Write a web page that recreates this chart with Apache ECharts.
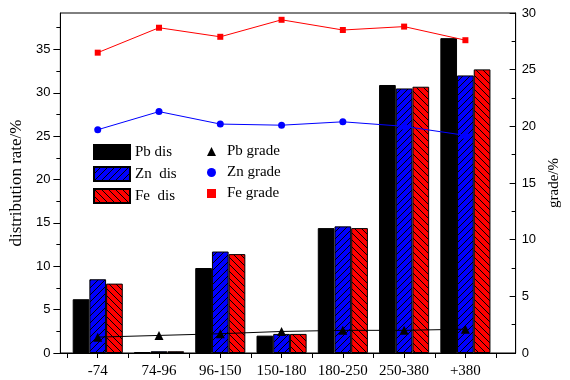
<!DOCTYPE html>
<html>
<head>
<meta charset="utf-8">
<script src="https://cdn.jsdelivr.net/npm/echarts@6/dist/echarts.min.js"></script>
<style>html,body{margin:0;padding:0;background:#fff;}#c{width:570px;height:380px;}</style>
</head>
<body>
<div id="c"></div>
<script>
const categories = ['-74', '74-96', '96-150', '150-180', '180-250', '250-380', '+380'];
const pbDis = [6.2, 0.1, 9.8, 2.0, 14.4, 30.9, 36.3];
const znDis = [8.5, 0.2, 11.7, 2.2, 14.6, 30.5, 32.0];
const feDis = [8.0, 0.2, 11.4, 2.2, 14.4, 30.7, 32.7];
const pbGrade = [1.4, 1.55, 1.7, 1.9, 2.0, 2.0, 2.1];
const znGrade = [19.7, 21.3, 20.2, 20.1, 20.4, 20.0, 19.2];
const feGrade = [26.5, 28.7, 27.9, 29.4, 28.5, 28.8, 27.6];
const leftTicks = [0, 5, 10, 15, 20, 25, 30, 35];

const pos = categories.map((c, i) => i + 1);
const pair = arr => arr.map((v, i) => [pos[i], v]);
const minorX = pos.map(p => p - 0.5).concat([pos[pos.length - 1] + 0.5]);

function hatchTile(bg, forward) {
  const n = 7;
  const c = document.createElement('canvas');
  c.width = n; c.height = n;
  const ctx = c.getContext('2d');
  ctx.fillStyle = bg;
  ctx.fillRect(0, 0, n, n);
  ctx.fillStyle = '#000';
  for (let i = 0; i < n; i++) {
    ctx.fillRect(i, forward ? n - 1 - i : i, 1, 1);
  }
  return {image: c, repeat: 'repeat'};
}

const chart = echarts.init(document.getElementById('c'), null, {renderer: 'canvas'});
const serif = 'Liberation Serif';
const sans = 'Liberation Sans';

chart.setOption({
  animation: false,
  backgroundColor: '#fff',
  grid: {left: 60, right: 49, top: 13, bottom: 27, show: true, borderColor: '#000', borderWidth: 1, backgroundColor: 'transparent'},
  legend: [
    {
      data: ['Pb dis', 'Zn  dis', 'Fe  dis'],
      orient: 'vertical', left: 88, top: 139, icon: 'rect',
      itemWidth: 36, itemHeight: 14, itemGap: 6,
      textStyle: {fontFamily: serif, fontSize: 15, color: '#000'},
      selectedMode: false
    },
    {
      data: [
        {name: 'Pb grade', icon: 'triangle'},
        {name: 'Zn grade', icon: 'circle'},
        {name: 'Fe grade', icon: 'rect'}
      ],
      orient: 'vertical', left: 202, top: 139,
      itemWidth: 9, itemHeight: 9, itemGap: 6,
      textStyle: {fontFamily: serif, fontSize: 15, color: '#000', padding: [0, 0, 0, 6]},
      selectedMode: false
    }
  ],
  xAxis: {
    type: 'value', min: 0.39, max: 7.82,
    axisLine: {lineStyle: {color: '#000', width: 1}},
    splitLine: {show: false},
    axisTick: {show: true, length: 5, lineStyle: {color: '#000'}, customValues: pos.concat(minorX)},
    axisLabel: {
      customValues: pos, margin: 11,
      fontFamily: serif, fontSize: 15, color: '#000',
      formatter: v => categories[Math.round(v) - 1] || ''
    }
  },
  yAxis: [
    {
      type: 'value', min: 0, max: 39.2, interval: 5, position: 'left',
      name: 'distribution rate/%', nameLocation: 'middle', nameGap: 31, nameRotate: 90,
      nameTextStyle: {fontFamily: serif, fontSize: 17, color: '#000'},
      axisLine: {show: true, lineStyle: {color: '#000'}},
      splitLine: {show: false},
      axisTick: {show: true, length: 7, lineStyle: {color: '#000'}, customValues: leftTicks},
      minorTick: {show: true, splitNumber: 2, length: 4, lineStyle: {color: '#000'}},
      axisLabel: {customValues: leftTicks, margin: 10, fontFamily: sans, fontSize: 13, color: '#000'}
    },
    {
      type: 'value', min: 0, max: 30, interval: 5, position: 'right',
      name: 'grade/%', nameLocation: 'middle', nameGap: 25, nameRotate: 90,
      nameTextStyle: {fontFamily: serif, fontSize: 15, color: '#000'},
      axisLine: {show: true, lineStyle: {color: '#000'}},
      splitLine: {show: false},
      axisTick: {show: true, inside: true, length: 6, lineStyle: {color: '#000'}},
      minorTick: {show: true, splitNumber: 2, length: 4, lineStyle: {color: '#000'}},
      axisLabel: {margin: 6, fontFamily: sans, fontSize: 13, color: '#000'}
    }
  ],
  series: [
    {name: 'Pb dis', type: 'bar', yAxisIndex: 0, data: pair(pbDis), barWidth: 16.7, barGap: '0%',
      itemStyle: {color: '#000', borderColor: '#000', borderWidth: 1, borderRadius: 0}},
    {name: 'Zn  dis', type: 'bar', yAxisIndex: 0, data: pair(znDis), barWidth: 16.7, barGap: '0%',
      itemStyle: {color: hatchTile('#0000ff', true), borderColor: '#000', borderWidth: 1, borderRadius: 0}},
    {name: 'Fe  dis', type: 'bar', yAxisIndex: 0, data: pair(feDis), barWidth: 16.7, barGap: '0%',
      itemStyle: {color: hatchTile('#ff0000', false), borderColor: '#000', borderWidth: 1, borderRadius: 0}},
    {name: 'Pb grade', type: 'line', yAxisIndex: 1, data: pair(pbGrade), symbol: 'triangle', symbolSize: 9,
      itemStyle: {color: '#000'}, lineStyle: {color: '#000', width: 1}, z: 5},
    {name: 'Zn grade', type: 'line', yAxisIndex: 1, data: pair(znGrade), symbol: 'circle', symbolSize: 7,
      itemStyle: {color: '#0000ff'}, lineStyle: {color: '#0000ff', width: 1}, z: 5},
    {name: 'Fe grade', type: 'line', yAxisIndex: 1, data: pair(feGrade), symbol: 'rect', symbolSize: 6,
      itemStyle: {color: '#ff0000'}, lineStyle: {color: '#ff0000', width: 1}, z: 5}
  ]
});
</script>
</body>
</html>
